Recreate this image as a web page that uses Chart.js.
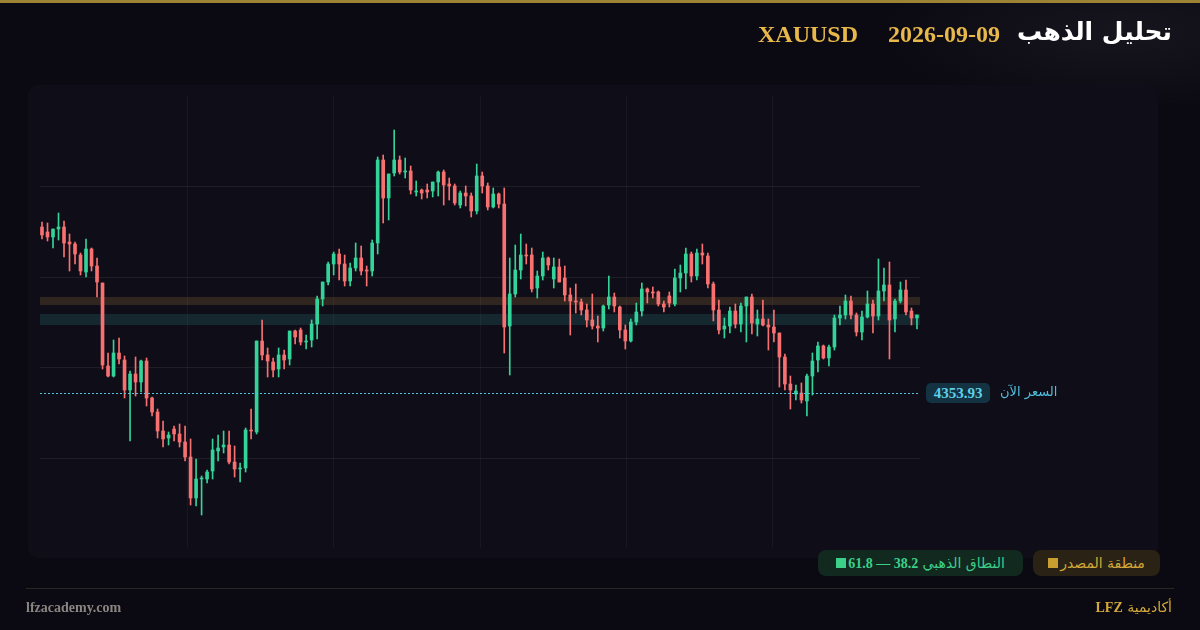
<!DOCTYPE html>
<html><head><meta charset="utf-8">
<script src="https://cdn.jsdelivr.net/npm/chart.js@4.4.1/dist/chart.umd.min.js"></script>
<style>
html,body{margin:0;padding:0;width:1200px;height:630px;background:#0b0a12;overflow:hidden;font-family:"DejaVu Sans",sans-serif}
#top{position:absolute;left:0;top:0;width:1200px;height:3px;background:#9c8434}
#hdr{position:absolute;left:0;top:3px;width:1200px;height:100px;background:radial-gradient(ellipse 240px 80px at 1120px 30px,rgba(40,38,48,0.4),rgba(0,0,0,0))}
#card{position:absolute;left:28px;top:85px;width:1130px;height:473px;background:#0f0d17;border-radius:10px}
canvas{position:absolute;left:0;top:0}
.t{position:absolute;white-space:nowrap}
#title{right:28px;top:17px;font-size:25px;font-weight:bold;color:#fff}
#date{left:888px;top:21px;font-size:24px;font-weight:bold;color:#e8b84a;font-family:"Liberation Serif",serif}
#sym{left:758px;top:21px;font-size:24px;font-weight:bold;color:#e8b84a;font-family:"Liberation Serif",serif}
#pbox{left:926px;top:383px;width:64px;height:20px;background:#133342;border-radius:5px;color:#5fd0ea;font:bold 15px "Liberation Serif",serif;text-align:center;line-height:20px}
#plab{left:1000px;top:384px;color:#4fbfdc;font-size:13px}
.pill{position:absolute;top:550px;height:26px;border-radius:8px;font-size:14px;line-height:26px;text-align:center}
#p1{left:818px;width:205px;background:#12291f;color:#3ccf8a}
#p2{left:1033px;width:127px;background:#2a2214;color:#d4a83a}
#fline{position:absolute;left:26px;top:588px;width:1148px;height:1px;background:#2a2820}
#site{left:26px;top:600px;color:#8a8580;font:bold 14px "Liberation Serif",serif}
#brand{right:28px;top:599px;color:#d4a83a;font-size:14px}
</style></head><body>
<div id="top"></div><div id="hdr"></div><div id="card"></div>
<canvas id="c" width="1200" height="630"></canvas>
<div class="t" id="title">تحليل الذهب</div>
<div class="t" id="date">2026-09-09</div>
<div class="t" id="sym">XAUUSD</div>
<div class="t" id="pbox">4353.93</div>
<div class="t" id="plab">السعر الآن</div>
<div class="pill" id="p1"><span dir="rtl">النطاق الذهبي <b style="font-family:'Liberation Serif',serif">38.2 — 61.8</b><span style="display:inline-block;width:10px;height:10px;background:#3ccf8a;margin-right:2px"></span></span></div>
<div class="pill" id="p2"><span dir="rtl">منطقة المصدر<span style="display:inline-block;width:10px;height:10px;background:#c9a030;margin-right:2px"></span></span></div>
<div id="fline"></div>
<div class="t" id="site">lfzacademy.com</div>
<div class="t" id="brand" dir="rtl">أكاديمية <b style="font-family:'Liberation Serif',serif">LFZ</b></div>
<script>
const opens=[4520,4515,4510,4518,4520,4505,4503,4492,4475,4498,4481,4464,4381,4371,4394,4387,4357,4373,4365,4386,4349,4335,4316,4309,4318,4313,4305,4290,4249,4268,4268,4276,4296,4300,4302,4285,4278,4279,4317,4315,4406,4392,4385,4378,4392,4388,4416,4417,4405,4407,4423,4448,4465,4483,4493,4483,4466,4479,4489,4477,4476,4504,4587,4549,4574,4587,4575,4576,4555,4557,4557,4556,4565,4575,4563,4561,4542,4554,4551,4536,4571,4561,4540,4553,4543,4421,4453,4477,4492,4492,4459,4471,4489,4468,4480,4469,4452,4446,4445,4437,4427,4421,4419,4442,4450,4440,4417,4406,4425,4436,4458,4455,4455,4443,4451,4443,4469,4474,4493,4471,4494,4491,4463,4437,4418,4421,4436,4423,4441,4450,4423,4428,4422,4420,4414,4390,4363,4353,4354,4346,4371,4387,4401,4389,4400,4429,4432,4446,4432,4415,4430,4443,4431,4456,4462,4428,4446,4457,4436,4429];
const closes=[4512,4510,4518,4520,4504,4503,4493,4476,4498,4481,4465,4382,4371,4394,4388,4357,4373,4365,4386,4349,4335,4316,4308,4312,4313,4305,4290,4249,4268,4269,4275,4297,4299,4302,4285,4278,4279,4317,4316,4406,4392,4386,4377,4392,4387,4416,4410,4405,4406,4423,4448,4465,4483,4493,4483,4466,4479,4489,4476,4476,4504,4587,4549,4573,4587,4575,4576,4557,4556,4554,4555,4565,4575,4562,4561,4544,4554,4551,4536,4571,4561,4540,4553,4543,4420,4453,4477,4492,4491,4458,4471,4489,4482,4480,4465,4452,4446,4445,4437,4427,4421,4419,4441,4450,4441,4417,4406,4425,4435,4458,4455,4454,4443,4440,4444,4469,4474,4493,4471,4494,4492,4463,4437,4417,4421,4436,4423,4441,4450,4424,4428,4422,4420,4414,4390,4363,4357,4356,4347,4371,4386,4401,4389,4400,4429,4432,4446,4432,4415,4430,4443,4431,4456,4462,4427,4446,4457,4435,4429,4432];
const highs=[4525,4524,4518,4534,4526,4513,4505,4494,4508,4499,4489,4464,4394,4407,4409,4391,4376,4390,4387,4389,4350,4338,4326,4315,4321,4323,4321,4308,4288,4271,4277,4308,4312,4316,4316,4301,4284,4319,4338,4406,4427,4399,4389,4399,4397,4416,4417,4419,4412,4427,4451,4465,4485,4495,4498,4492,4484,4504,4501,4481,4507,4590,4592,4573,4617,4591,4589,4581,4566,4558,4563,4565,4576,4577,4569,4563,4556,4561,4554,4583,4575,4564,4559,4554,4559,4489,4502,4513,4503,4499,4476,4495,4490,4489,4488,4481,4459,4463,4448,4443,4453,4431,4442,4471,4454,4441,4422,4428,4444,4464,4459,4460,4456,4446,4455,4478,4482,4499,4495,4498,4503,4494,4465,4447,4429,4440,4443,4444,4450,4453,4437,4447,4428,4437,4414,4393,4371,4362,4364,4373,4394,4405,4402,4402,4432,4441,4452,4451,4434,4436,4456,4447,4488,4479,4485,4448,4465,4467,4439,4432];
const lows=[4508,4506,4499,4507,4490,4476,4483,4472,4470,4476,4450,4378,4370,4370,4383,4349,4306,4351,4355,4341,4331,4309,4300,4302,4306,4300,4286,4242,4241,4232,4264,4268,4286,4294,4283,4270,4265,4275,4308,4313,4387,4370,4370,4370,4378,4382,4403,4402,4398,4400,4408,4441,4462,4472,4467,4461,4461,4476,4472,4461,4471,4493,4524,4527,4571,4573,4569,4553,4551,4548,4549,4550,4551,4542,4547,4542,4539,4541,4530,4533,4554,4537,4539,4539,4394,4372,4450,4468,4483,4455,4449,4467,4477,4459,4465,4446,4412,4434,4432,4420,4418,4405,4416,4438,4435,4409,4398,4405,4422,4431,4444,4449,4441,4435,4440,4441,4455,4458,4465,4467,4483,4459,4426,4413,4409,4414,4419,4415,4405,4413,4411,4421,4397,4405,4360,4357,4338,4347,4344,4331,4352,4375,4388,4381,4397,4422,4428,4428,4411,4407,4429,4414,4427,4446,4388,4415,4444,4432,4422,4418];
const currentPrice=4353.93;
const sourceZone=[4442,4450];
const goldenZone=[4422,4433];
const yGrid=[4289,4380,4470,4561];
const xGrid=[26.35,52.9,79.6,106.3,132.8];

const UP='#34d399',DN='#f87171';
const cols=opens.map((o,i)=>closes[i]>=o?UP:DN);
const wick=opens.map((o,i)=>({x:i,y:[lows[i],highs[i]]}));
const body=opens.map((o,i)=>{let a=Math.min(o,closes[i]),b=Math.max(o,closes[i]);if(b-a<1)b=a+1;return {x:i,y:[a,b]};});
const bands={id:'bands',beforeDatasetsDraw(ch){const {ctx,chartArea:a,scales:{y}}=ch;ctx.save();
 ctx.fillStyle='rgba(200,150,70,0.18)';ctx.fillRect(a.left,y.getPixelForValue(sourceZone[1]),a.right-a.left,y.getPixelForValue(sourceZone[0])-y.getPixelForValue(sourceZone[1]));
 ctx.fillStyle='rgba(40,110,110,0.28)';ctx.fillRect(a.left,y.getPixelForValue(goldenZone[1]),a.right-a.left,y.getPixelForValue(goldenZone[0])-y.getPixelForValue(goldenZone[1]));
 ctx.restore();},
 afterDatasetsDraw(ch){const {ctx,chartArea:a,scales:{y}}=ch;const py=Math.round(y.getPixelForValue(currentPrice))+0.5;ctx.save();ctx.strokeStyle='#56c6e0';ctx.lineWidth=1;ctx.setLineDash([2,2]);ctx.beginPath();ctx.moveTo(a.left,py);ctx.lineTo(a.right,py);ctx.stroke();ctx.restore();}};
new Chart(document.getElementById('c'),{
 data:{datasets:[
  {type:'bar',data:wick,backgroundColor:cols,barThickness:1,grouped:false,order:2},
  {type:'bar',data:body,backgroundColor:cols,barThickness:3,grouped:false,order:1}]},
 options:{responsive:false,animation:false,devicePixelRatio:1,
  layout:{padding:{left:40,right:280,top:96,bottom:82}},
  plugins:{legend:{display:false},tooltip:{enabled:false}},
  scales:{
   x:{type:'linear',offset:false,min:-0.363,max:159.55,afterBuildTicks(s){s.ticks=xGrid.map(v=>({value:v}));},
      ticks:{display:false},grid:{offset:false,color:'rgba(255,255,255,0.045)',drawTicks:false},border:{display:false}},
   y:{type:'linear',min:4199,max:4651,afterBuildTicks(s){s.ticks=yGrid.map(v=>({value:v}));},
      ticks:{display:false},grid:{color:'rgba(255,255,255,0.07)',drawTicks:false},border:{display:false}}}},
 plugins:[bands]});
</script></body></html>
